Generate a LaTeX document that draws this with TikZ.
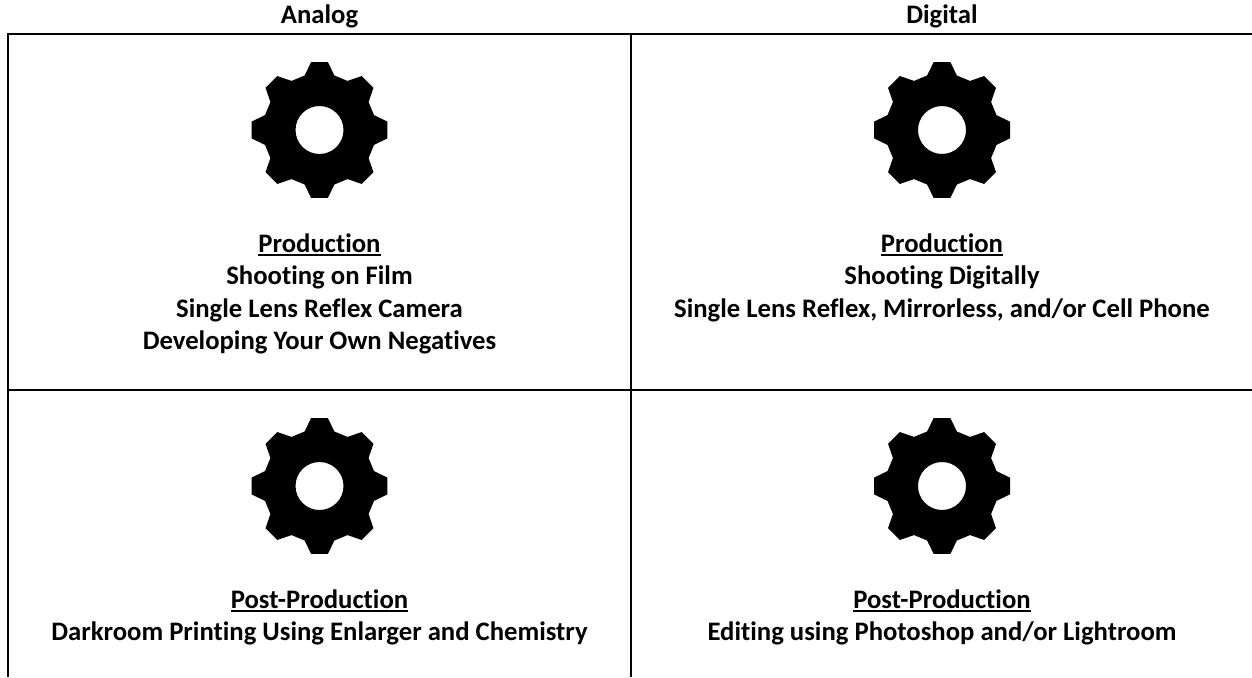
\documentclass[tikz,border=0pt]{standalone}
\usepackage{fontspec}
\setmainfont{Carlito}[Ligatures=NoCommon]
\newcommand{\ul}[1]{\sbox0{#1}\rlap{\rule[-3.9pt]{\wd0}{2pt}}\box0}
\tikzset{
  x=1pt,y=-1pt,
  rule/.style={line width=1.7pt,black,line cap=butt},
  label/.style={font=\fontsize{26.7}{32}\bfseries\selectfont,inner sep=0pt,anchor=base,text=black},
  gearfill/.style={fill=black,even odd rule,draw=none},
  pics/gear/.style={code={
    \path[gearfill]
      (-7:68.5pt)
      \foreach \a in {0,45,...,315}{
        -- ({\a-7}:68.5pt) -- ({\a+7}:68.5pt) -- ({\a+15.3}:56.5pt) -- ({\a+29.7}:56.5pt)
      } -- cycle
      (0,0) circle[radius=24pt];
  }}
}
\begin{document}
\begin{tikzpicture}
\useasboundingbox (0,0) rectangle (1252,677);
\coordinate (tl) at (8.2,33.8);
\coordinate (tr) at (1252,33.8);
\coordinate (ml) at (8.2,390);
\coordinate (mr) at (1252,390);
\coordinate (bl) at (8.2,677);
\coordinate (tm) at (631,33.8);
\coordinate (bm) at (631,677);
\draw[rule] (bl) -- (tl) -- (tr);
\draw[rule] (ml) -- (mr);
\draw[rule] (tm) -- (bm);
\pic at (319.5,130) {gear};
\pic at (942,130) {gear};
\pic at (319.5,486) {gear};
\pic at (942,486) {gear};
\node[label] (h1) at (319.5,23.5) {Analog};
\node[label] (h2) at (942,23.5) {Digital};
\node[label] (a1) at (319.5,252) {\ul{Production}};
\node[label] (a2) at (319.5,284.5) {Shooting on Film};
\node[label] (a3) at (319.5,317) {Single Lens Reflex Camera};
\node[label] (a4) at (319.5,349.5) {Developing Your Own Negatives};
\node[label] (b1) at (942,252) {\ul{Production}};
\node[label] (b2) at (942,284.5) {Shooting Digitally};
\node[label] (b3) at (942,317) {Single Lens Reflex, Mirrorless, and/or Cell Phone};
\node[label] (c1) at (319.5,608) {\ul{Post-Production}};
\node[label] (c2) at (319.5,640.5) {Darkroom Printing Using Enlarger and Chemistry};
\node[label] (d1) at (942,608) {\ul{Post-Production}};
\node[label] (d2) at (942,640.5) {Editing using Photoshop and/or Lightroom};
\end{tikzpicture}
\end{document}
